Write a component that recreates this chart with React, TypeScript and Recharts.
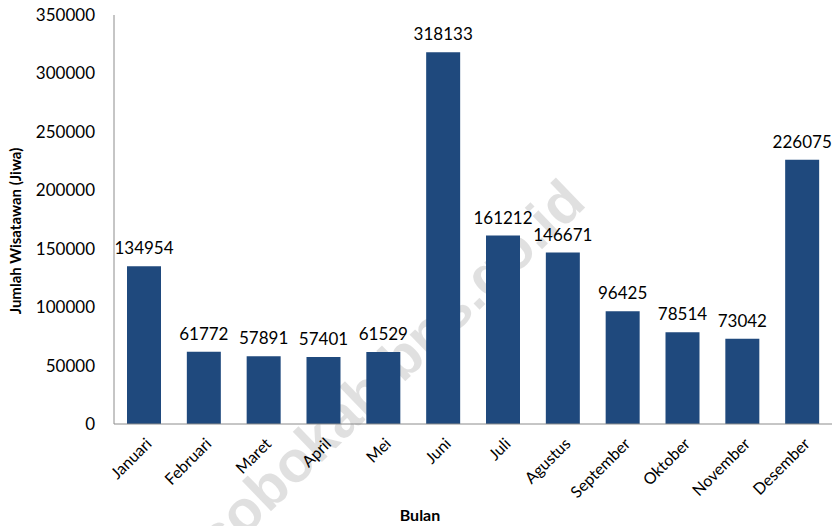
import React from 'react';
import { BarChart, Bar, XAxis, YAxis, LabelList, Customized } from 'recharts';

const months = ['Januari', 'Februari', 'Maret', 'April', 'Mei', 'Juni', 'Juli', 'Agustus', 'September', 'Oktober', 'November', 'Desember'];
const visitors = [134954, 61772, 57891, 57401, 61529, 318133, 161212, 146671, 96425, 78514, 73042, 226075];
const yTicks = [0, 50000, 100000, 150000, 200000, 250000, 300000, 350000];

const data = months.map((m, i) => ({ bulan: m, jumlah: visitors[i] }));

const FONT = 'Lato, "Open Sans", sans-serif';

const XTick = (props: any) => {
  const { x, y, payload } = props;
  return (
    <g transform={`translate(${x + 6},${y + 10})`}>
      <text x={0} y={0} textAnchor="end" transform="rotate(-45)" fontSize={16} fill="#000" fontFamily={FONT} dy={4}>
        {payload.value}
      </text>
    </g>
  );
};

const Titles = () => (
  <g>
    <text x={21} y={231} transform="rotate(-90, 21, 231)" textAnchor="middle" fontSize={15} fontWeight="bold" fontFamily={FONT} fill="#000">
      Jumlah Wisatawan  (Jiwa)
    </text>
    <text x={420} y={521} textAnchor="middle" fontSize={16} fontWeight="bold" fontFamily={FONT} fill="#000">
      Bulan
    </text>
  </g>
);

const Watermark = () => (
  <text x={588} y={205} transform="rotate(-44, 588, 205)" textAnchor="end" fontSize={58} fontWeight="bold" fontFamily='"Liberation Sans", Arial, sans-serif' fill="#000" fillOpacity={0.12}>
    wonosobokab.bps.go.id
  </text>
);

export default function App() {
  return (
    <div style={{ position: 'absolute', left: 0, top: 0, width: 838, height: 526, background: '#fff' }}>
      <BarChart width={838} height={526} data={data} margin={{ top: 15, right: 6, bottom: 0, left: 0 }} barSize={34}>
        <YAxis
          domain={[0, 350000]}
          ticks={yTicks}
          interval={0}
          width={114}
          tickLine={false}
          tickSize={0}
          tickMargin={19}
          axisLine={{ stroke: '#8c8c8c' }}
          tick={{ fontSize: 17, fill: '#000', fontFamily: FONT }}
        />
        <XAxis
          dataKey="bulan"
          interval={0}
          tickLine={false}
          axisLine={{ stroke: '#8c8c8c' }}
          tick={<XTick />}
          height={102}
        />
        <Bar dataKey="jumlah" fill="#1F497D" isAnimationActive={false}>
          <LabelList dataKey="jumlah" position="top" offset={12} style={{ fontSize: 17, fill: '#000', fontFamily: FONT }} />
        </Bar>
        <Customized component={Titles} />
        <Customized component={Watermark} />
      </BarChart>
    </div>
  );
}
